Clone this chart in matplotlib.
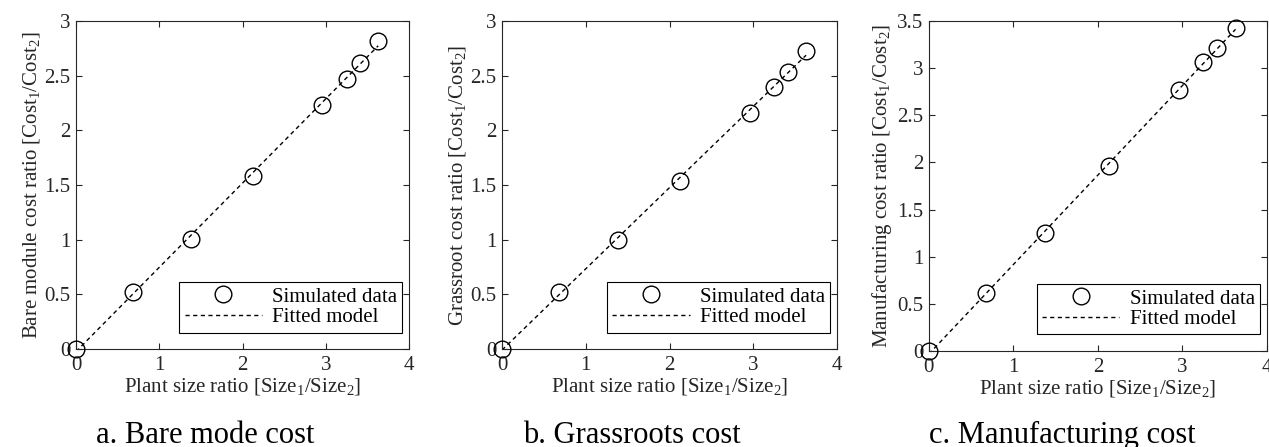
import numpy as np
import matplotlib
matplotlib.use("Agg")
import matplotlib.pyplot as plt
from matplotlib.ticker import FormatStrFormatter, MultipleLocator

plt.rcParams['font.family'] = ['Liberation Serif', 'DejaVu Serif']
plt.rcParams['mathtext.fontset'] = 'custom'
plt.rcParams['mathtext.rm'] = 'Liberation Serif'
plt.rcParams['mathtext.it'] = 'Liberation Serif:italic'

# Plant size ratio (same for all three panels)
size_ratio = [0, 0.68, 1.38, 2.13, 2.96, 3.25, 3.41, 3.63]

# Cost ratios
bare_module = [0, 0.52, 1.01, 1.58, 2.23, 2.47, 2.62, 2.82]
grassroots = [0, 0.52, 1.00, 1.54, 2.16, 2.40, 2.53, 2.73]
manufacturing = [0, 0.61, 1.25, 1.96, 2.77, 3.06, 3.21, 3.43]

ylabels = ['Bare module cost ratio [Cost$_1$/Cost$_2$]',
           'Grassroot cost ratio [Cost$_1$/Cost$_2$]',
           'Manufacturing cost ratio [Cost$_1$/Cost$_2$]']
captions = ['a. Bare mode cost', 'b. Grassroots cost', 'c. Manufacturing cost']
ymax = [3, 3, 3.5]

TXT = '#262626'
FS = 15

fig = plt.figure(figsize=(12.69, 4.47), dpi=100)
positions = [[0.0599, 0.2192, 0.2624, 0.7338],
             [0.3956, 0.2192, 0.2640, 0.7338],
             [0.7320, 0.2148, 0.2663, 0.7383]]
cap_x = [205 / 1269, 632 / 1269, 1062 / 1269]

for i, ycost in enumerate([bare_module, grassroots, manufacturing]):
    ax = fig.add_axes(positions[i])
    x = np.array(size_ratio)
    y = np.array(ycost)
    # least-squares fit through the simulated points
    p = np.polyfit(x, y, 1)
    ax.plot(x, y, 'o', mfc='none', mec='black', ms=12, mew=1.0,
            label='Simulated data', clip_on=False, zorder=3)
    ax.plot(x, np.polyval(p, x), color='black', lw=1.0, dashes=(3, 2.5),
            label='Fitted model', zorder=2)
    ax.set_xlim(0, 4)
    ax.set_ylim(0, ymax[i])
    ax.xaxis.set_major_locator(MultipleLocator(1))
    ax.yaxis.set_major_locator(MultipleLocator(0.5))
    ax.xaxis.set_major_formatter(FormatStrFormatter('%g'))
    ax.yaxis.set_major_formatter(FormatStrFormatter('%g'))
    ax.tick_params(direction='in', top=True, right=True, length=4,
                   width=0.8, labelsize=FS, colors=TXT)
    ax.tick_params(axis='x', pad=5)
    ax.tick_params(axis='y', pad=4)
    for s in ax.spines.values():
        s.set_color(TXT)
        s.set_linewidth(0.8)
    ax.set_xlabel('Plant size ratio [Size$_1$/Size$_2$]', fontsize=FS,
                  color=TXT, labelpad=1)
    ax.set_ylabel(ylabels[i], fontsize=FS, color=TXT, labelpad=2)
    leg = ax.legend(loc='lower right', bbox_to_anchor=(0.98, 0.05),
                    fontsize=FS, fancybox=False, framealpha=1,
                    edgecolor='black', handlelength=3.7, borderpad=0.25,
                    labelspacing=0.05, handletextpad=0.5, borderaxespad=0)
    leg.get_frame().set_linewidth(0.8)
    fig.text(cap_x[i], 0.008, captions[i], fontsize=22, ha='center',
             va='baseline', color='black')

fig.savefig('out.png', dpi=100)
